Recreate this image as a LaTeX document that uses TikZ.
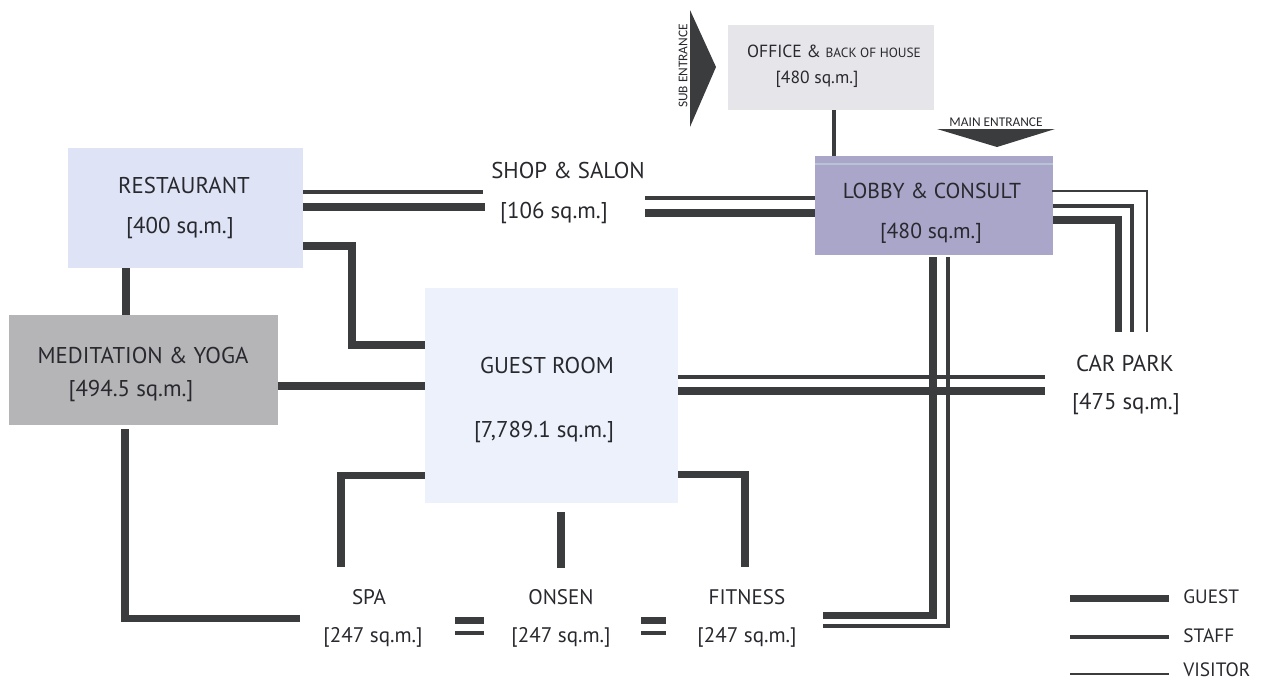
\documentclass[tikz,border=0pt]{standalone}
\usepackage{fontspec}
\setmainfont{PT Sans}
\newfontfamily\tagfont{Carlito}
\usetikzlibrary{positioning}
\definecolor{lineC}{RGB}{58,60,62}
\definecolor{txtC}{RGB}{40,41,46}
\definecolor{restC}{RGB}{222,227,246}
\definecolor{groomC}{RGB}{237,241,251}
\definecolor{meditC}{RGB}{181,181,183}
\definecolor{lobbyC}{RGB}{169,166,201}
\definecolor{officeC}{RGB}{230,230,234}
\definecolor{lobbyTopC}{RGB}{182,196,214}
\begin{document}
\begin{tikzpicture}[x=0.02cm,y=-0.02cm,font=\fontsize{13}{15}\selectfont,text=txtC,
  room/.style={draw=none,inner sep=0pt},
  guestline/.style={line width=4pt,draw=lineC},
  staffline/.style={line width=2.2pt,draw=lineC},
  visitorline/.style={line width=0.8pt,draw=lineC},
  tag/.style={font=\tagfont\fontsize{7.6}{8}\selectfont,inner sep=0pt},
  small/.style={font=\fontsize{12}{14}\selectfont},
  legtext/.style={font=\fontsize{11}{13}\selectfont,inner sep=0pt,anchor=west}]
\useasboundingbox (0,0) rectangle (1271,681);
% rooms
\node[room,fill=restC,minimum width=4.7cm,minimum height=2.4cm] (rest) at (185.5,208) {};
\node[room,fill=meditC,minimum width=5.38cm,minimum height=2.2cm] (medit) at (143.5,370) {};
\node[room,fill=groomC,minimum width=5.06cm,minimum height=4.3cm] (groom) at (551.5,395.5) {};
\node[room,fill=lobbyC,minimum width=4.76cm,minimum height=1.98cm] (lobby) at (934,205.5) {};
\node[room,fill=officeC,minimum width=4.12cm,minimum height=1.7cm] (office) at (831,67.5) {};
\draw[line width=0.6pt,lobbyTopC] (lobby.west |- 0,164) -- (lobby.east |- 0,164);
% labels
\node (restT) at (184,185) {RESTAURANT};
\node (restA) at (180,228) {[400 sq.m.]};
\node (meditT) at (143,355) {MEDITATION \& YOGA};
\node (meditA) at (131,391) {[494.5 sq.m.]};
\node (groomT) at (547,365) {GUEST ROOM};
\node (groomA) at (544,432) {[7,789.1 sq.m.]};
\node (shopT) at (568,170) {SHOP \& SALON};
\node (shopA) at (554,213) {[106 sq.m.]};
\node[font=\fontsize{12.3}{14}\selectfont] (lobbyT) at (932,191) {LOBBY \& CONSULT};
\node[font=\fontsize{12.3}{14}\selectfont] (lobbyA) at (931,233) {[480 sq.m.]};
\node[font=\fontsize{10}{12}\selectfont] (officeT) at (834,51) {OFFICE \& {\fontsize{7.6}{9}\selectfont BACK OF HOUSE}};
\node[font=\fontsize{10}{12}\selectfont] (officeA) at (817,79) {[480 sq.m.]};
\node (carT) at (1125,363) {CAR PARK};
\node (carA) at (1126,404) {[475 sq.m.]};
\node[small] (spaT) at (369,597) {SPA};
\node[small] (spaA) at (373,637) {[247 sq.m.]};
\node[small] (onsenT) at (561,597) {ONSEN};
\node[small] (onsenA) at (561,637) {[247 sq.m.]};
\node[small] (fitT) at (747,597) {FITNESS};
\node[small] (fitA) at (747,637) {[247 sq.m.]};
% entrances
\fill[lineC] (690,10) -- (716,67) -- (690,127) -- cycle;
\node[tag,rotate=90] (subT) at (683,66) {SUB ENTRANCE};
\fill[lineC] (937,129) -- (1055,129) -- (997,147) -- cycle;
\node[tag] (mainT) at (996,122) {MAIN ENTRANCE};
% free ends
\coordinate (shopW1) at (483,192);
\coordinate (shopW2) at (485,207);
\coordinate (shopE1) at (645,198);
\coordinate (shopE2) at (645,213);
\coordinate (spaE) at (300,618);
\coordinate (fitE1) at (823,615);
\coordinate (fitE2) at (823,626);
\coordinate (carN1) at (1118,332);
\coordinate (carN2) at (1132,332);
\coordinate (carN3) at (1147,332);
\coordinate (carW1) at (1045,377);
\coordinate (carW2) at (1045,391);
% connectors
\draw[staffline] (rest.east |- shopW1) -- (shopW1);
\draw[guestline] (rest.east |- shopW2) -- (shopW2);
\draw[staffline] (shopE1) -- (lobby.west |- shopE1);
\draw[guestline] (shopE2) -- (lobby.west |- shopE2);
\draw[staffline] (office.south -| 834,0) -- (lobby.north -| 834,0);
\draw[guestline] (rest.east |- 0,246) -| (352,345) -- (groom.west |- 0,345);
\draw[guestline] (rest.south -| 126,0) -- (medit.north -| 126,0);
\draw[guestline] (medit.east |- 0,386) -- (groom.west |- 0,386);
\draw[guestline] (125,429) |- (spaE);
\draw[guestline] (groom.west |- 0,475) -| (341,567);
\draw[guestline] (561,512) -- (561,568);
\draw[guestline] (groom.east |- 0,474) -| (745,567);
\draw[guestline] (455,620) -- (484,620);
\draw[staffline] (455,633) -- (484,633);
\draw[guestline] (641,620) -- (666,620);
\draw[staffline] (641,633) -- (666,633);
\draw[staffline] (groom.east |- carW1) -- (carW1);
\draw[guestline] (groom.east |- carW2) -- (carW2);
\draw[guestline] (933,257) |- (fitE1);
\draw[staffline] (948,257) |- (fitE2);
\draw[guestline] (lobby.east |- 0,220) -| (carN1);
\draw[staffline] (lobby.east |- 0,206) -| (carN2);
\draw[visitorline] (1052,191) -| (carN3);
% legend
\coordinate (legG) at (1070,598);
\coordinate (legS) at (1070,637);
\coordinate (legV) at (1070,674);
\draw[guestline] (legG) -- ++(99,0);
\draw[staffline] (legS) -- ++(99,0);
\draw[visitorline] (legV) -- ++(99,0);
\node[legtext] (legGT) at (1183,597) {GUEST};
\node[legtext] (legST) at (1183,636) {STAFF};
\node[legtext] (legVT) at (1183,670) {VISITOR};
\end{tikzpicture}
\end{document}
